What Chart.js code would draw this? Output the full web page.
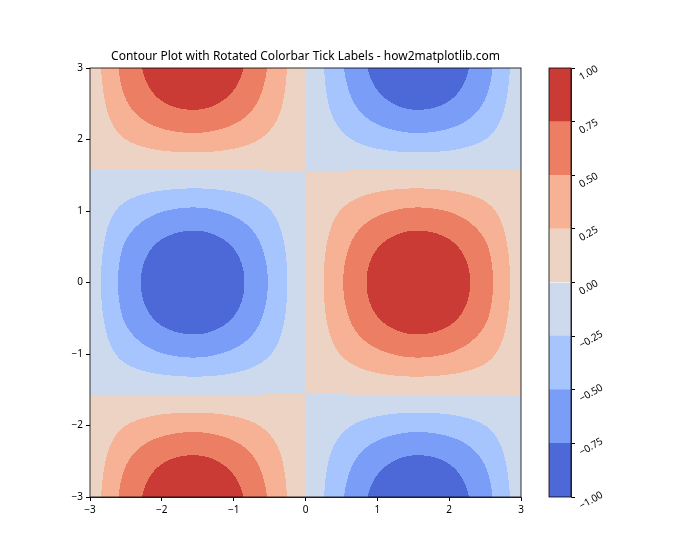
<!DOCTYPE html>
<html>
<head>
<meta charset="utf-8">
<script src="https://cdn.jsdelivr.net/npm/chart.js@4"></script>
<style>
  html, body { margin: 0; padding: 0; background: #fff; }
  #wrap { position: relative; width: 700px; height: 560px; }
  #wrap canvas { position: absolute; left: 0; top: 0; }
</style>
</head>
<body>
<div id="wrap">
  <canvas id="contourChart" width="700" height="560"></canvas>
  <canvas id="colorbarChart" width="700" height="560"></canvas>
</div>
<script>
const xValues = [-3, -2.5, -2, -1.5, -1, -0.5, 0, 0.5, 1, 1.5, 2, 2.5, 3];
const yValues = [-3, -2.5, -2, -1.5, -1, -0.5, 0, 0.5, 1, 1.5, 2, 2.5, 3];

// z values, one row per y (bottom to top), one column per x
const zGrid = [
    [ 0.14,  0.59,  0.90,  0.99,  0.83,  0.47, 0, -0.47, -0.83, -0.99, -0.90, -0.59, -0.14],
    [ 0.11,  0.48,  0.73,  0.80,  0.67,  0.38, 0, -0.38, -0.67, -0.80, -0.73, -0.48, -0.11],
    [ 0.06,  0.25,  0.38,  0.42,  0.35,  0.20, 0, -0.20, -0.35, -0.42, -0.38, -0.25, -0.06],
    [-0.01, -0.04, -0.06, -0.07, -0.06, -0.03, 0,  0.03,  0.06,  0.07,  0.06,  0.04,  0.01],
    [-0.08, -0.32, -0.49, -0.54, -0.45, -0.26, 0,  0.26,  0.45,  0.54,  0.49,  0.32,  0.08],
    [-0.12, -0.53, -0.80, -0.88, -0.74, -0.42, 0,  0.42,  0.74,  0.88,  0.80,  0.53,  0.12],
    [-0.14, -0.60, -0.91, -1.00, -0.84, -0.48, 0,  0.48,  0.84,  1.00,  0.91,  0.60,  0.14],
    [-0.12, -0.53, -0.80, -0.88, -0.74, -0.42, 0,  0.42,  0.74,  0.88,  0.80,  0.53,  0.12],
    [-0.08, -0.32, -0.49, -0.54, -0.45, -0.26, 0,  0.26,  0.45,  0.54,  0.49,  0.32,  0.08],
    [-0.01, -0.04, -0.06, -0.07, -0.06, -0.03, 0,  0.03,  0.06,  0.07,  0.06,  0.04,  0.01],
    [ 0.06,  0.25,  0.38,  0.42,  0.35,  0.20, 0, -0.20, -0.35, -0.42, -0.38, -0.25, -0.06],
    [ 0.11,  0.48,  0.73,  0.80,  0.67,  0.38, 0, -0.38, -0.67, -0.80, -0.73, -0.48, -0.11],
    [ 0.14,  0.59,  0.90,  0.99,  0.83,  0.47, 0, -0.47, -0.83, -0.99, -0.90, -0.59, -0.14]
];

// contour levels and the band colours between them (coolwarm)
const levels = [-1, -0.75, -0.5, -0.25, 0, 0.25, 0.5, 0.75, 1];
const bandColors = ['#4d68d7', '#7a9df8', '#a6c4fe', '#cdd9ec', '#edd3c4', '#f7b194', '#ec7f63', '#ca3b36'];

const axisTicks = [-3, -2, -1, 0, 1, 2, 3];
const titleText = 'Contour Plot with Rotated Colorbar Tick Labels - how2matplotlib.com';

const FONT = '"Noto Sans", "DejaVu Sans", sans-serif';

function minusSign(v) {
    return String(v).replace('-', '\u2212');
}

function hexToRgb(hex) {
    const n = parseInt(hex.slice(1), 16);
    return [(n >> 16) & 255, (n >> 8) & 255, n & 255];
}

// Catmull-Rom between grid nodes
function cubic(p0, p1, p2, p3, t) {
    return p1 + 0.5 * t * (p2 - p0 + t * (2 * p0 - 5 * p1 + 4 * p2 - p3 + t * (3 * (p1 - p2) + p3 - p0)));
}

function zAt(x, y) {
    const step = xValues[1] - xValues[0];
    const nx = xValues.length, ny = yValues.length;
    const gx = (x - xValues[0]) / step;
    const gy = (y - yValues[0]) / step;
    const ix = Math.min(Math.max(Math.floor(gx), 0), nx - 2);
    const iy = Math.min(Math.max(Math.floor(gy), 0), ny - 2);
    const tx = gx - ix, ty = gy - iy;
    const cx = i => Math.min(Math.max(i, 0), nx - 1);
    const cy = j => Math.min(Math.max(j, 0), ny - 1);
    const rows = [];
    for (let j = -1; j <= 2; j++) {
        const r = zGrid[cy(iy + j)];
        rows.push(cubic(r[cx(ix - 1)], r[cx(ix)], r[cx(ix + 1)], r[cx(ix + 2)], tx));
    }
    return cubic(rows[0], rows[1], rows[2], rows[3], ty);
}

function bandIndex(z) {
    for (let i = 0; i < bandColors.length; i++) {
        if (z < levels[i + 1]) return i;
    }
    return bandColors.length - 1;
}

// paints the filled contour bands into the chart area
const contourPlugin = {
    id: 'contourFill',
    beforeDatasetsDraw(chart) {
        const { ctx, chartArea, scales } = chart;
        const left = Math.round(chartArea.left), top = Math.round(chartArea.top);
        const w = Math.round(chartArea.right) - left;
        const h = Math.round(chartArea.bottom) - top;
        const img = ctx.createImageData(w, h);
        const rgb = bandColors.map(hexToRgb);
        for (let py = 0; py < h; py++) {
            const yv = scales.y.getValueForPixel(top + py + 0.5);
            for (let px = 0; px < w; px++) {
                const xv = scales.x.getValueForPixel(left + px + 0.5);
                const c = rgb[bandIndex(zAt(xv, yv))];
                const k = (py * w + px) * 4;
                img.data[k] = c[0];
                img.data[k + 1] = c[1];
                img.data[k + 2] = c[2];
                img.data[k + 3] = 255;
            }
        }
        ctx.putImageData(img, left, top);
    }
};

const framePlugin = {
    id: 'frame',
    afterDraw(chart) {
        const { ctx, chartArea } = chart;
        ctx.save();
        ctx.strokeStyle = '#000';
        ctx.lineWidth = 0.8;
        ctx.strokeRect(chartArea.left, chartArea.top, chartArea.right - chartArea.left, chartArea.bottom - chartArea.top);
        ctx.restore();
    }
};

const tickFont = { family: FONT, size: 10 };

function axisOptions(position, fitSize) {
    return {
        type: 'linear',
        position: position,
        min: -3,
        max: 3,
        afterBuildTicks: scale => { scale.ticks = axisTicks.map(v => ({ value: v })); },
        afterFit: scale => {
            if (position === 'bottom') scale.height = fitSize; else scale.width = fitSize;
        },
        ticks: {
            color: '#000',
            font: tickFont,
            padding: 3,
            maxRotation: 0,
            callback: v => minusSign(v)
        },
        grid: {
            drawOnChartArea: false,
            drawTicks: true,
            tickLength: 4,
            color: '#000'
        },
        border: { display: true, color: '#000', width: 0.8 }
    };
}

new Chart(document.getElementById('contourChart'), {
    type: 'scatter',
    data: { datasets: [{ data: [], showLine: false }] },
    options: {
        responsive: false,
        animation: false,
        devicePixelRatio: 1,
        layout: { padding: { left: 50, right: 179, top: 0, bottom: 33 } },
        scales: {
            x: axisOptions('bottom', 30),
            y: axisOptions('left', 40)
        },
        plugins: {
            legend: { display: false },
            tooltip: { enabled: false },
            title: {
                display: true,
                fullSize: false,
                text: titleText,
                color: '#000',
                font: { family: FONT, size: 12, weight: 'normal' },
                padding: { top: 49, bottom: 4.6 }
            }
        }
    },
    plugins: [contourPlugin, framePlugin]
});

// colorbar: one floating bar per band, stacked in the same column
const cbDatasets = bandColors.map((color, i) => ({
    data: [[levels[i], levels[i + 1]]],
    backgroundColor: color,
    borderWidth: 0,
    barPercentage: 1,
    categoryPercentage: 1,
    grouped: false
}));

new Chart(document.getElementById('colorbarChart'), {
    type: 'bar',
    data: { labels: [''], datasets: cbDatasets },
    options: {
        responsive: false,
        animation: false,
        devicePixelRatio: 1,
        layout: { padding: { left: 549, right: 69, top: 68, bottom: 63 } },
        scales: {
            x: { display: false },
            y: {
                position: 'right',
                min: -1,
                max: 1,
                afterBuildTicks: scale => { scale.ticks = levels.map(v => ({ value: v })); },
                afterFit: scale => { scale.width = 60; },
                ticks: {
                    color: '#000',
                    font: tickFont,
                    padding: 5,
                    minRotation: 30,
                    maxRotation: 30,
                    labelOffset: 10,
                    callback: v => minusSign(Number(v).toFixed(2))
                },
                grid: {
                    drawOnChartArea: false,
                    drawTicks: true,
                    tickLength: 4,
                    color: '#000'
                },
                border: { display: true, color: '#000', width: 0.8 }
            }
        },
        plugins: {
            legend: { display: false },
            tooltip: { enabled: false }
        }
    },
    plugins: [framePlugin]
});
</script>
</body>
</html>
